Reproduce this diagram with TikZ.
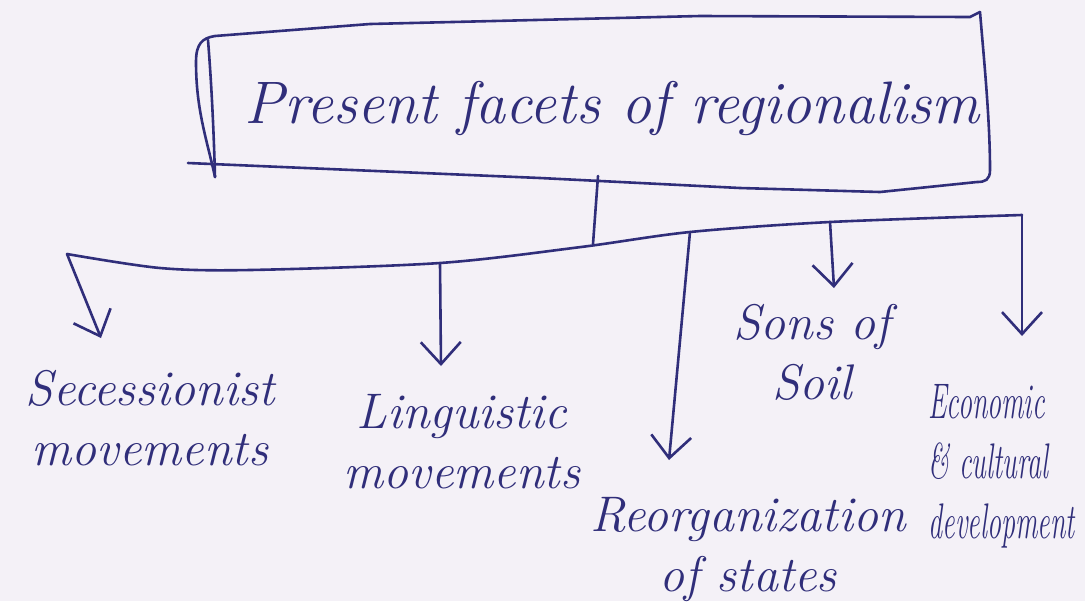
\documentclass[tikz,border=0pt]{standalone}
\usetikzlibrary{arrows.meta}
\definecolor{ink}{RGB}{48,46,122}
\definecolor{paper}{RGB}{244,241,247}
\tikzset{
  pen/.style={draw=ink,line width=1.3pt,line cap=round,line join=round},
  arr/.style={pen,-{Straight Barb[length=11pt,width=20pt,line width=1.3pt]}},
  lab/.style={text=ink,font=\fontsize{25}{30}\selectfont\itshape,align=center,inner sep=0pt},
  ttl/.style={text=ink,font=\fontsize{30}{34}\selectfont\itshape,inner sep=0pt}
}
\newcommand{\squeeze}[1]{\scalebox{0.56}[1]{#1}}
\begin{document}
\begin{tikzpicture}[x=0.5pt,y=-0.5pt]
\fill[paper] (0,0) rectangle (1085,601);
\useasboundingbox (0,0) rectangle (1085,601);
\clip (0,0) rectangle (1085,601);

% title box (hand drawn)
\node[ttl] (title) at (612,108) {Present facets of regionalism};
\draw[pen] (215,177) .. controls (207,140) and (196,110) .. (196,62)
  .. controls (196,44) and (202,38) .. (215,36)
  -- (370,24) -- (700,16) -- (970,17) -- (980,12);
\draw[pen] (208,40) .. controls (212,90) and (214,140) .. (215,177);
\draw[pen] (980,12) .. controls (984,60) and (990,120) .. (990,170)
  .. controls (990,180) and (985,182) .. (977,182)
  -- (880,192) -- (740,188) -- (540,178) -- (188,163);

% stem and hub
\coordinate (stemtop) at (598,176);
\coordinate (hubL) at (67,254);
\coordinate (hubM) at (593,244);
\coordinate (hubR1) at (690,232);
\coordinate (hubS) at (830,222);
\coordinate (hubR) at (1022,215);
\coordinate (hubG) at (440,264);
\draw[pen] (stemtop) -- (hubM);
\draw[pen] plot[smooth,tension=0.5] coordinates {(hubL) (160,268) (250,270) (440,263) (581,247) (hubR1) (hubS) (hubR)};

% labels
\node[lab] (sec) at (150,418) {Secessionist\\movements};
\node[lab] (lin) at (462,442) {Linguistic\\movements};
\node[lab] (reo) at (748,550) {Reorganization\\of states};
\node[lab] (son) at (812,352) {Sons of\\Soil};
\node[lab,align=left,anchor=north west] (eco) at (928,384)
  {\squeeze{Economic}\\\squeeze{\& cultural}\\\squeeze{development}};

% arrows
\draw[arr] (hubL) -- (101,338);
\draw[arr] (hubG) -- (441,366);
\draw[arr] (hubR1) -- (669,460);
\draw[arr] (hubS) -- (834,288);
\draw[arr] (hubR) -- (1022,336);
\end{tikzpicture}
\end{document}
